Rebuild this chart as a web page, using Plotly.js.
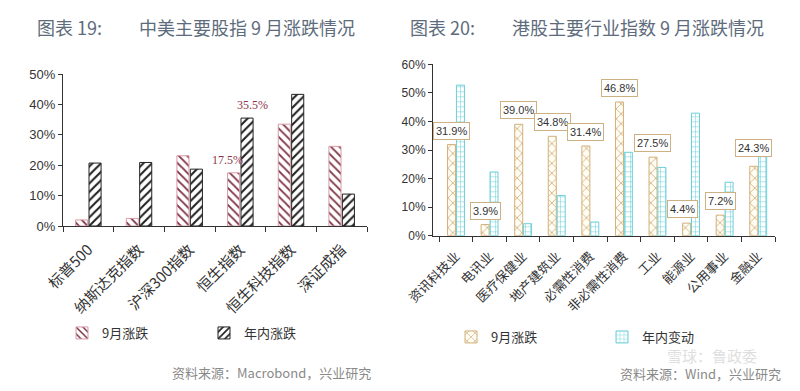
<!DOCTYPE html>
<html>
<head>
<meta charset="utf-8">
<script src="https://cdn.plot.ly/plotly-3.0.1.min.js"></script>
<style>
html,body{margin:0;padding:0;background:#fff;}
#chart{width:800px;height:391px;}
</style>
</head>
<body>
<div id="chart"></div>
<script>
// ---- Left chart data (图表 19) ----
var leftCategories = ['标普500', '纳斯达克指数', '沪深300指数', '恒生指数', '恒生科技指数', '深证成指'];
var leftSep = [2.0, 2.5, 23.1, 17.5, 33.5, 26.2];      // 9月涨跌 (%)
var leftYtd = [20.7, 20.9, 18.7, 35.5, 43.3, 10.5];    // 年内涨跌 (%)
var leftTickVals = [0, 10, 20, 30, 40, 50];
var leftTickText = ['0%', '10%', '20%', '30%', '40%', '50%'];

// ---- Right chart data (图表 20) ----
var rightCategories = ['资讯科技业', '电讯业', '医疗保健业', '地产建筑业', '必需性消费', '非必需性消费', '工业', '能源业', '公用事业', '金融业'];
var rightSep = [31.9, 3.9, 39.0, 34.8, 31.4, 46.8, 27.5, 4.4, 7.2, 24.3];   // 9月涨跌 (%)
var rightYtd = [52.7, 22.3, 4.2, 14.1, 4.8, 29.2, 23.9, 42.9, 18.7, 27.9];  // 年内变动 (%)
var rightTickVals = [0, 10, 20, 30, 40, 50, 60];
var rightTickText = ['0%', '10%', '20%', '30%', '40%', '50%', '60%'];

var cjkFont = '"Noto Sans CJK SC", sans-serif';
var numFont = '"Liberation Sans", Arial, sans-serif';

var traces = [
  {
    type: 'bar', name: '9月涨跌', x: leftCategories, y: leftSep,
    xaxis: 'x', yaxis: 'y', legend: 'legend',
    marker: {color: '#ffffff', line: {color: '#d79aa6', width: 1},
      pattern: {shape: '\\', fgcolor: '#7d2f42', bgcolor: '#ffffff', size: 6, solidity: 0.3}},
    hoverinfo: 'skip'
  },
  {
    type: 'bar', name: '年内涨跌', x: leftCategories, y: leftYtd,
    xaxis: 'x', yaxis: 'y', legend: 'legend',
    marker: {color: '#ffffff', line: {color: '#222222', width: 1},
      pattern: {shape: '/', fgcolor: '#222222', bgcolor: '#ffffff', size: 6, solidity: 0.35}},
    hoverinfo: 'skip'
  },
  {
    type: 'bar', name: '9月涨跌', x: rightCategories, y: rightSep,
    xaxis: 'x2', yaxis: 'y2', legend: 'legend2',
    marker: {color: '#ffffff', line: {color: '#d2b07a', width: 1},
      pattern: {shape: 'x', fgcolor: '#c9a46a', bgcolor: '#fffdf4', size: 7, solidity: 0.2}},
    hoverinfo: 'skip'
  },
  {
    type: 'bar', name: '年内变动', x: rightCategories, y: rightYtd,
    xaxis: 'x2', yaxis: 'y2', legend: 'legend2',
    marker: {color: '#ffffff', line: {color: '#6ccfd8', width: 1},
      pattern: {shape: '+', fgcolor: '#6ccfd8', bgcolor: '#ffffff', size: 5, solidity: 0.2}},
    hoverinfo: 'skip'
  }
];

var annotations = [];
// left chart labels for 恒生指数
annotations.push({xref: 'x', yref: 'y', x: leftCategories[3], y: leftSep[3], text: leftSep[3].toFixed(1) + '%',
  showarrow: false, xshift: -13, yshift: 4, yanchor: 'bottom',
  font: {family: '"Liberation Serif", serif', size: 12, color: '#8e3447'}});
annotations.push({xref: 'x', yref: 'y', x: leftCategories[3], y: leftYtd[3], text: leftYtd[3].toFixed(1) + '%',
  showarrow: false, xshift: 12, yshift: 4, yanchor: 'bottom',
  font: {family: '"Liberation Serif", serif', size: 12, color: '#8e3447'}});

// right chart boxed labels for 9月涨跌
for (var i = 0; i < rightCategories.length; i++) {
  annotations.push({xref: 'x2', yref: 'y2', x: rightCategories[i], y: rightSep[i], text: rightSep[i].toFixed(1) + '%',
    showarrow: false, xshift: (i === 7 ? -9 : -4.5), yshift: (i === 9 ? 9 : 5), yanchor: 'bottom',
    bgcolor: '#ffffff', bordercolor: '#cdb183', borderwidth: 1, borderpad: 2,
    font: {family: numFont, size: 11, color: '#333333'}});
}

// titles
var titleFont = {family: cjkFont, size: 18, color: '#5d6c7c'};
annotations.push({xref: 'paper', yref: 'paper', x: 35/800, y: 1 - 27/391, xanchor: 'left', yanchor: 'middle',
  text: '图表 19:', showarrow: false, font: titleFont});
annotations.push({xref: 'paper', yref: 'paper', x: 137/800, y: 1 - 27/391, xanchor: 'left', yanchor: 'middle',
  text: '中美主要股指 9 月涨跌情况', showarrow: false, font: titleFont});
annotations.push({xref: 'paper', yref: 'paper', x: 408/800, y: 1 - 27/391, xanchor: 'left', yanchor: 'middle',
  text: '图表 20:', showarrow: false, font: titleFont});
annotations.push({xref: 'paper', yref: 'paper', x: 510/800, y: 1 - 27/391, xanchor: 'left', yanchor: 'middle',
  text: '港股主要行业指数 9 月涨跌情况', showarrow: false, font: titleFont});

// watermark
annotations.push({xref: 'paper', yref: 'paper', x: 712/800, y: 1 - 355/391, xanchor: 'center', yanchor: 'middle',
  text: '雪球：鲁政委', showarrow: false,
  font: {family: cjkFont, size: 15, color: 'rgba(200,200,200,0.6)'}});

// sources
annotations.push({xref: 'paper', yref: 'paper', x: 373/800, y: 1 - 372/391, xanchor: 'right', yanchor: 'middle',
  text: '资料来源：Macrobond，兴业研究', showarrow: false,
  font: {family: cjkFont, size: 13, color: '#8a8a8a'}});
annotations.push({xref: 'paper', yref: 'paper', x: 783/800, y: 1 - 373/391, xanchor: 'right', yanchor: 'middle',
  text: '资料来源：Wind，兴业研究', showarrow: false,
  font: {family: cjkFont, size: 13, color: '#8a8a8a'}});

var axisCommon = {
  showgrid: false, zeroline: false, showline: true, linecolor: '#333333', linewidth: 1,
  ticks: 'outside', tickcolor: '#333333', ticklen: 4, fixedrange: true, automargin: false
};

var layout = {
  width: 800, height: 391,
  margin: {l: 0, r: 0, t: 0, b: 0, autoexpand: false},
  paper_bgcolor: '#ffffff', plot_bgcolor: '#ffffff',
  barmode: 'group', bargap: 0.47, bargroupgap: 0.1,
  showlegend: true,
  xaxis: Object.assign({}, axisCommon, {
    domain: [63/800, 367/800], anchor: 'y', type: 'category', tickson: 'boundaries', ticklen: 5,
    tickangle: -45, ticklabelstandoff: 8, tickfont: {family: cjkFont, size: 15, color: '#333333'}
  }),
  yaxis: Object.assign({}, axisCommon, {
    domain: [1 - 226/391, 1 - 74/391], anchor: 'x', range: [0, 50],
    tickmode: 'array', tickvals: leftTickVals, ticktext: leftTickText,
    tickfont: {family: numFont, size: 13, color: '#333333'}
  }),
  xaxis2: Object.assign({}, axisCommon, {
    domain: [433/800, 775/800], anchor: 'y2', type: 'category', tickson: 'boundaries', ticklen: 5,
    tickangle: -45, ticklabelstandoff: 7, tickfont: {family: cjkFont, size: 13, color: '#333333'}
  }),
  yaxis2: Object.assign({}, axisCommon, {
    domain: [1 - 235.7/391, 1 - 64.3/391], anchor: 'x2', range: [0, 60],
    tickmode: 'array', tickvals: rightTickVals, ticktext: rightTickText,
    tickfont: {family: numFont, size: 12, color: '#333333'}
  }),
  legend: {
    orientation: 'h', x: 62/800, y: 1 - 318/391, xanchor: 'left', yanchor: 'top',
    entrywidth: 97, entrywidthmode: 'pixels', itemwidth: 30,
    font: {family: cjkFont, size: 13, color: '#333333'}, bgcolor: 'rgba(0,0,0,0)'
  },
  legend2: {
    orientation: 'h', x: 451/800, y: 1 - 322/391, xanchor: 'left', yanchor: 'top',
    entrywidth: 106, entrywidthmode: 'pixels', itemwidth: 30,
    font: {family: cjkFont, size: 13, color: '#333333'}, bgcolor: 'rgba(0,0,0,0)'
  },
  annotations: annotations
};

Plotly.newPlot('chart', traces, layout, {displayModeBar: false, staticPlot: true});
</script>
</body>
</html>
